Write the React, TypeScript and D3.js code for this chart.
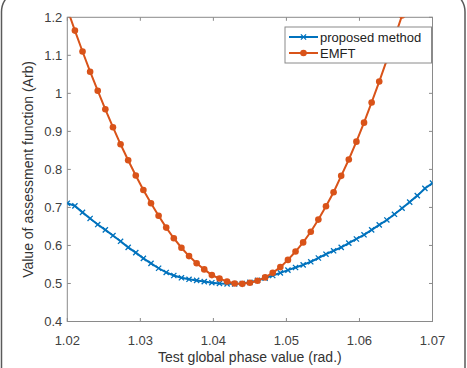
import React, { useEffect, useRef } from 'react';
import * as d3 from 'd3';

// phase grid: 49 samples from 1.02 to 1.07 rad
const phaseStart = 1.02;
const phaseEnd = 1.07;
const sampleCount = 49;

const proposedValues = [
  0.711, 0.704, 0.687, 0.671, 0.655, 0.641, 0.626, 0.611, 0.595, 0.581,
  0.566, 0.553, 0.540, 0.529, 0.521, 0.515, 0.511, 0.508, 0.505, 0.502,
  0.500, 0.499, 0.499, 0.500, 0.503, 0.508, 0.514, 0.521, 0.528, 0.535,
  0.542, 0.549, 0.557, 0.567, 0.577, 0.586, 0.595, 0.606, 0.617, 0.628,
  0.641, 0.654, 0.667, 0.682, 0.698, 0.714, 0.731, 0.750, 0.764,
];

const emftValues = [
  1.222, 1.165, 1.110, 1.057, 1.007, 0.958, 0.911, 0.866, 0.824, 0.784,
  0.746, 0.711, 0.678, 0.647, 0.619, 0.594, 0.572, 0.553, 0.537, 0.522,
  0.513, 0.505, 0.500, 0.499, 0.502, 0.507, 0.516, 0.528, 0.543, 0.562,
  0.584, 0.608, 0.636, 0.668, 0.703, 0.740, 0.783, 0.826, 0.873, 0.923,
  0.976, 1.031, 1.088, 1.146, 1.205, 1.265, 1.327, 1.390, 1.452,
];

const xTicks = [1.02, 1.03, 1.04, 1.05, 1.06, 1.07];
const yTicks = [0.4, 0.5, 0.6, 0.7, 0.8, 0.9, 1.0, 1.1, 1.2];

const seriesNames = ['proposed method', 'EMFT'];
const seriesColors = ['#0072BD', '#D95319'];

const W = 467;
const H = 368;
const margin = { top: 17.3, right: 34.5, bottom: 46.5, left: 67.3 };
const font = '"Liberation Sans", Arial, sans-serif';

const App = () => {
  const svgRef = useRef(null);

  useEffect(() => {
    if (!svgRef.current) return;
    const svg = d3.select(svgRef.current);
    svg.selectAll('*').remove();

    const innerW = W - margin.left - margin.right;
    const innerH = H - margin.top - margin.bottom;

    const phases = d3.range(sampleCount).map(
      (i) => phaseStart + (i * (phaseEnd - phaseStart)) / (sampleCount - 1)
    );

    const x = d3.scaleLinear().domain([phaseStart, phaseEnd]).range([0, innerW]);
    const y = d3.scaleLinear().domain([0.4, 1.2]).range([innerH, 0]);

    svg.append('rect').attr('width', W).attr('height', H).attr('fill', '#fff');

    // outer frame, rounded at the top, running off the bottom edge
    svg.append('rect')
      .attr('x', 1.5)
      .attr('y', -10)
      .attr('width', 463.5)
      .attr('height', 400)
      .attr('rx', 22)
      .attr('fill', 'none')
      .attr('stroke', '#5a5a5a')
      .attr('stroke-width', 1.5);

    const g = svg.append('g')
      .attr('transform', `translate(${margin.left},${margin.top})`);

    svg.append('defs').append('clipPath')
      .attr('id', 'plot-clip')
      .append('rect')
      .attr('width', innerW)
      .attr('height', innerH);

    const axisColor = '#8a8a8a';
    const tickLen = 3.5;

    // ticks on all four sides, pointing inward
    const tickG = g.append('g').attr('stroke', axisColor).attr('stroke-width', 1);
    xTicks.forEach((t) => {
      tickG.append('line').attr('x1', x(t)).attr('x2', x(t)).attr('y1', innerH).attr('y2', innerH - tickLen);
      tickG.append('line').attr('x1', x(t)).attr('x2', x(t)).attr('y1', 0).attr('y2', tickLen);
    });
    yTicks.forEach((t) => {
      tickG.append('line').attr('x1', 0).attr('x2', tickLen).attr('y1', y(t)).attr('y2', y(t));
      tickG.append('line').attr('x1', innerW).attr('x2', innerW - tickLen).attr('y1', y(t)).attr('y2', y(t));
    });

    g.append('rect')
      .attr('width', innerW)
      .attr('height', innerH)
      .attr('fill', 'none')
      .attr('stroke', axisColor)
      .attr('stroke-width', 1);

    const fmt = d3.format('');
    g.append('g')
      .selectAll('text')
      .data(xTicks)
      .join('text')
      .attr('x', (d) => x(d))
      .attr('y', innerH + 24)
      .attr('text-anchor', 'middle')
      .attr('font-family', font)
      .attr('font-size', 13)
      .attr('fill', '#404040')
      .text((d) => d.toFixed(2));

    g.append('g')
      .selectAll('text')
      .data(yTicks)
      .join('text')
      .attr('x', -5)
      .attr('y', (d) => y(d))
      .attr('dy', '0.36em')
      .attr('text-anchor', 'end')
      .attr('font-family', font)
      .attr('font-size', 13)
      .attr('fill', '#404040')
      .text((d) => fmt(+d.toFixed(1)));

    g.append('text')
      .attr('x', innerW / 2)
      .attr('y', innerH + 41)
      .attr('text-anchor', 'middle')
      .attr('font-family', font)
      .attr('font-size', 14)
      .attr('fill', '#333')
      .text('Test global phase value (rad.)');

    g.append('text')
      .attr('transform', `translate(${-34.5},${innerH / 2}) rotate(-90)`)
      .attr('text-anchor', 'middle')
      .attr('font-family', font)
      .attr('font-size', 14)
      .attr('fill', '#333')
      .text('Value of assessment function (Arb)');

    const plot = g.append('g').attr('clip-path', 'url(#plot-clip)');

    const line = d3.line<number>()
      .x((_, i) => x(phases[i]))
      .y((d) => y(d));

    const drawCross = (sel, cx, cy, s, color) => {
      sel.append('path')
        .attr('d', `M${cx - s},${cy - s}L${cx + s},${cy + s}M${cx - s},${cy + s}L${cx + s},${cy - s}`)
        .attr('stroke', color)
        .attr('stroke-width', 1.3)
        .attr('fill', 'none');
    };

    // blue series with x markers
    plot.append('path')
      .datum(proposedValues)
      .attr('d', line)
      .attr('fill', 'none')
      .attr('stroke', seriesColors[0])
      .attr('stroke-width', 2);
    proposedValues.forEach((v, i) => drawCross(plot, x(phases[i]), y(v), 2.6, seriesColors[0]));

    // orange series with filled circles
    plot.append('path')
      .datum(emftValues)
      .attr('d', line)
      .attr('fill', 'none')
      .attr('stroke', seriesColors[1])
      .attr('stroke-width', 2);
    plot.selectAll('circle.emft')
      .data(emftValues)
      .join('circle')
      .attr('class', 'emft')
      .attr('cx', (_, i) => x(phases[i]))
      .attr('cy', (d) => y(d))
      .attr('r', 3.3)
      .attr('fill', seriesColors[1]);

    // legend
    const lg = svg.append('g').attr('transform', 'translate(285,27)');
    lg.append('rect')
      .attr('width', 146.5)
      .attr('height', 36)
      .attr('fill', '#fff')
      .attr('stroke', axisColor)
      .attr('stroke-width', 1);
    seriesNames.forEach((name, i) => {
      const ly = 10 + i * 16;
      lg.append('line')
        .attr('x1', 4).attr('x2', 33)
        .attr('y1', ly).attr('y2', ly)
        .attr('stroke', seriesColors[i])
        .attr('stroke-width', 2);
      if (i === 0) drawCross(lg, 18.5, ly, 2.6, seriesColors[0]);
      else lg.append('circle').attr('cx', 18.5).attr('cy', ly).attr('r', 3.3).attr('fill', seriesColors[1]);
      lg.append('text')
        .attr('x', 35)
        .attr('y', ly)
        .attr('dy', '0.36em')
        .attr('font-family', font)
        .attr('font-size', 13)
        .attr('fill', '#222')
        .text(name);
    });
  }, []);

  return <svg ref={svgRef} width={W} height={H} style={{ display: 'block', position: 'absolute', left: 0, top: 0 }} />;
};

export default App;
